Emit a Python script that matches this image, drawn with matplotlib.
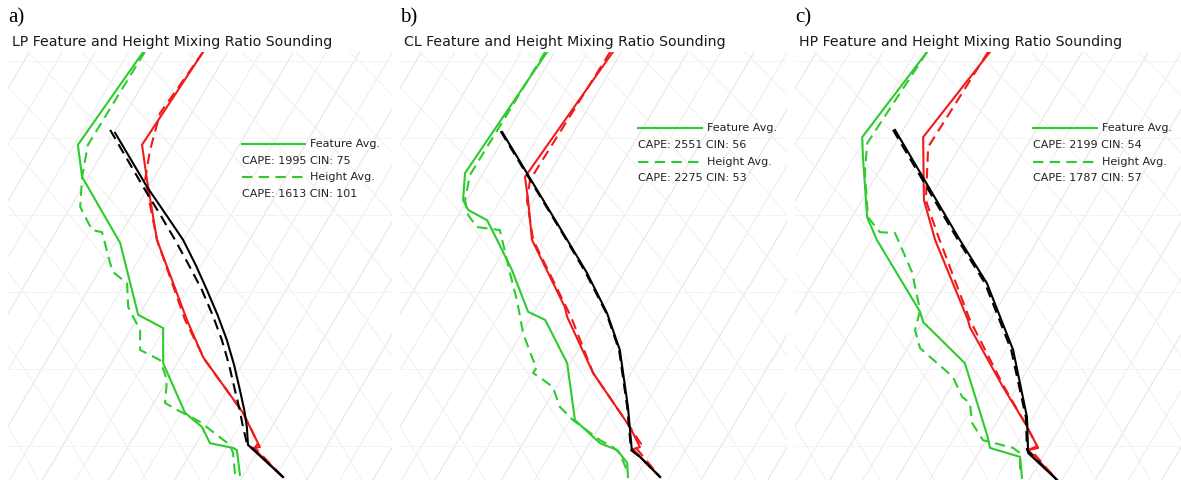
import numpy as np
import matplotlib.pyplot as plt

# panel data: (x, y) in skewed-sounding plot units, x 0-100 left to right, y 0-100 bottom to top
lp_feat_td = [(35.2, 100), (18.2, 78.3), (19.3, 70.8), (29.2, 55.4), (33.9, 38.6), (40.4, 35.5),
              (40.4, 27.3), (46.1, 15.7), (50.5, 12.4), (52.6, 8.6), (58.6, 7.5), (59.6, 7.0), (60.4, 1.2)]
lp_hgt_td = [(35.6, 100), (20.8, 78.3), (19.3, 70.8), (18.8, 63.8), (21.9, 58.4), (24.5, 57.9),
             (26.6, 50.7), (27.3, 48.6), (31.0, 46.0), (31.3, 40.4), (34.4, 35.0), (34.4, 30.4),
             (39.6, 28.0), (41.4, 23.4), (40.9, 18.0), (44.0, 16.4), (50.0, 13.6), (53.4, 11.2),
             (57.8, 8.2), (58.6, 6.3), (59.1, 1.6), (60.4, 1.2)]
lp_feat_t = [(50.8, 100), (34.9, 78.3), (36.2, 70.1), (38.8, 56.1), (46.6, 37.4), (50.8, 28.7),
             (61.2, 15.7), (65.6, 7.7), (63.8, 7.5), (71.6, 0.7)]
lp_hgt_t = [(50.8, 100), (39.6, 85.7), (37.0, 77.1), (35.7, 70.1), (38.8, 56.1), (46.1, 37.4),
            (51.3, 28.0), (61.2, 15.7), (65.1, 8.6), (64.3, 7.5), (71.6, 0.7)]
lp_feat_parcel = [(27.9, 81.1), (36.2, 68.5), (41.0, 62.2), (45.6, 56.1), (48.9, 50.2), (51.8, 44.4),
                  (54.6, 38.5), (57.0, 32.7), (58.9, 26.8), (60.4, 21.0), (61.5, 16.5), (62.2, 12.4),
                  (62.5, 8.2), (71.6, 0.7)]
lp_hgt_parcel = [(26.6, 81.8), (35.2, 68.5), (39.5, 62.2), (43.5, 56.1), (47.1, 50.2), (50.5, 44.4),
                 (53.3, 38.5), (55.7, 32.7), (57.6, 26.8), (59.1, 21.0), (60.3, 16.5), (61.2, 12.4),
                 (62.2, 8.6), (71.6, 0.7)]

cl_feat_td = [(38.0, 100), (16.8, 71.7), (16.3, 65.4), (17.6, 63.1), (22.5, 60.7), (25.1, 56.1),
              (28.9, 49.1), (33.1, 39.3), (37.5, 37.4), (43.2, 27.3), (45.2, 14.0), (51.7, 8.6),
              (56.1, 7.0), (58.7, 4.0), (58.9, 0.7)]
cl_hgt_td = [(37.5, 100), (18.1, 71.3), (16.8, 65.4), (17.6, 61.9), (19.9, 59.1), (25.8, 58.4),
             (28.4, 48.4), (30.2, 42.1), (31.8, 34.3), (34.4, 28.0), (35.4, 26.4), (34.4, 25.0),
             (37.0, 23.4), (39.5, 21.7), (41.3, 17.1), (44.7, 14.0), (51.7, 9.3), (55.0, 7.7),
             (56.8, 6.3), (58.9, 1.6)]
cl_feat_t = [(55.0, 100), (32.3, 70.8), (33.1, 65.4), (34.1, 56.1), (42.6, 40.4), (43.2, 38.1),
             (49.9, 25.0), (59.4, 12.4), (62.0, 7.7), (60.2, 7.2), (67.2, 0.7)]
cl_hgt_t = [(54.3, 100), (33.6, 70.1), (32.8, 65.4), (34.4, 56.1), (44.2, 38.1), (49.9, 25.0),
            (59.4, 12.4), (62.3, 8.4), (61.0, 7.5), (67.2, 0.7)]
cl_feat_parcel = [(26.4, 81.3), (43.2, 56.1), (48.3, 48.4), (53.5, 39.0), (56.8, 30.4), (58.9, 17.1),
                  (59.9, 7.0), (62.0, 5.4), (67.2, 0.7)]
cl_hgt_parcel = [(26.0, 81.5), (43.0, 56.1), (48.0, 48.4), (53.3, 39.0), (56.6, 30.4), (58.7, 17.1),
                 (59.7, 7.0), (62.0, 5.4), (67.2, 0.7)]

hp_feat_td = [(34.2, 100), (17.4, 80.1), (17.6, 75.5), (18.7, 61.4), (21.2, 56.1), (32.4, 39.3),
              (33.2, 36.9), (44.0, 27.3), (47.2, 18.0), (50.0, 9.8), (50.5, 7.5), (58.3, 5.4), (58.8, 0.5)]
hp_hgt_td = [(34.2, 100), (18.7, 78.7), (18.1, 71.7), (18.9, 61.4), (22.0, 57.9), (25.9, 57.7),
             (26.7, 56.1), (30.3, 48.6), (32.4, 39.7), (31.1, 35.0), (32.4, 30.8), (40.9, 24.1),
             (43.3, 19.4), (45.3, 18.0), (45.9, 13.3), (48.7, 9.3), (56.5, 7.5), (58.3, 6.3), (58.3, 1.6)]
hp_feat_t = [(50.5, 100), (33.2, 80.1), (33.4, 65.4), (36.3, 56.1), (44.8, 37.4), (45.3, 35.7),
             (53.9, 21.7), (59.6, 13.3), (63.0, 7.5), (60.4, 7.0), (67.9, 0)]
hp_hgt_t = [(50.0, 100), (34.5, 77.8), (33.9, 65.4), (36.8, 57.7), (45.3, 37.4), (53.9, 22.2),
            (59.6, 13.3), (62.7, 7.9), (60.9, 7.2), (67.9, 0)]
hp_feat_parcel = [(25.9, 81.8), (42.7, 56.1), (49.7, 46.0), (56.5, 30.4), (60.1, 14.7), (60.4, 6.3), (67.9, 0)]
hp_hgt_parcel = [(25.4, 81.8), (42.2, 56.1), (49.2, 46.0), (56.0, 30.4), (59.8, 14.7), (60.1, 7.0), (67.9, 0)]

panel_letters = ['a)', 'b)', 'c)']
panel_titles = ['LP Feature and Height Mixing Ratio Sounding',
                'CL Feature and Height Mixing Ratio Sounding',
                'HP Feature and Height Mixing Ratio Sounding']
feat_cape = [1995, 2551, 2199]
feat_cin = [75, 56, 54]
hgt_cape = [1613, 2275, 1787]
hgt_cin = [101, 53, 57]

panels = [
    (lp_feat_td, lp_hgt_td, lp_feat_t, lp_hgt_t, lp_feat_parcel, lp_hgt_parcel),
    (cl_feat_td, cl_hgt_td, cl_feat_t, cl_hgt_t, cl_feat_parcel, cl_hgt_parcel),
    (hp_feat_td, hp_hgt_td, hp_feat_t, hp_hgt_t, hp_feat_parcel, hp_hgt_parcel),
]

W, H = 1181, 480
fig = plt.figure(figsize=(W / 100, H / 100), dpi=100)

# axes boxes in pixels: left, width; legend x/y in axes fraction
boxes = [(8, 384), (400, 387), (795, 386)]
leg_x = [0.609, 0.615, 0.617]
leg_y = [0.785, 0.822, 0.822]
leg_dy = 0.039

GREEN = '#2ccc2c'
RED = '#f01a1a'
DASH = (0, (5, 3))

for i, (left, width) in enumerate(boxes):
    ax = fig.add_axes([left / W, 0, width / W, 428 / H])
    ax.set_xlim(0, 100)
    ax.set_ylim(0, 100)
    ax.axis('off')

    # faint skew-T background: isotherms, dry adiabats, isobars
    yy = np.linspace(0, 100, 50)
    for k, x0 in enumerate(np.arange(-120, 110, 8.6)):
        ax.plot(x0 + yy / 1.53, yy, color='#e6e6e6' if k % 2 else '#eeeeee', lw=0.8, zorder=0)
    for x0 in np.arange(-20, 220, 14):
        ax.plot(x0 - yy * 0.62 - 0.0025 * yy ** 2, yy, color='#f0f0f0', lw=0.7, zorder=0)
    for y0 in np.arange(8, 100, 18):
        ax.axhline(y0, color='#f2f2f2', lw=0.6, zorder=0)

    ftd, htd, ft, ht, fp, hp = panels[i]
    for pts, c, ls in [(ftd, GREEN, '-'), (htd, GREEN, DASH), (ft, RED, '-'), (ht, RED, DASH),
                       (fp, 'black', '-'), (hp, 'black', DASH)]:
        x, y = zip(*pts)
        ax.plot(x, y, color=c, lw=1.5, linestyle=ls, zorder=3)

    # legend block
    lx, ly = leg_x[i], leg_y[i]
    ax.plot([lx, lx + 0.165], [ly, ly], transform=ax.transAxes, color=GREEN, lw=1.5)
    ax.text(lx + 0.178, ly, 'Feature Avg.', transform=ax.transAxes, fontsize=8, va='center',
            color='#222222')
    ax.text(lx, ly - leg_dy, f'CAPE: {feat_cape[i]} CIN: {feat_cin[i]}', transform=ax.transAxes,
            fontsize=8, va='center', color='#222222')
    ax.plot([lx, lx + 0.165], [ly - 2 * leg_dy] * 2, transform=ax.transAxes, color=GREEN, lw=1.5,
            linestyle=DASH)
    ax.text(lx + 0.178, ly - 2 * leg_dy, 'Height Avg.', transform=ax.transAxes, fontsize=8,
            va='center', color='#222222')
    ax.text(lx, ly - 3 * leg_dy, f'CAPE: {hgt_cape[i]} CIN: {hgt_cin[i]}', transform=ax.transAxes,
            fontsize=8, va='center', color='#222222')

    fig.text((left + 4) / W, 1 - 42 / H, panel_titles[i], fontsize=10.2, va='center', ha='left',
             color='#1a1a1a')
    fig.text(left / W, 1 - 18 / H, panel_letters[i], fontsize=15, va='center', ha='left',
             family='Liberation Serif')

fig.savefig('out.png', dpi=100)
